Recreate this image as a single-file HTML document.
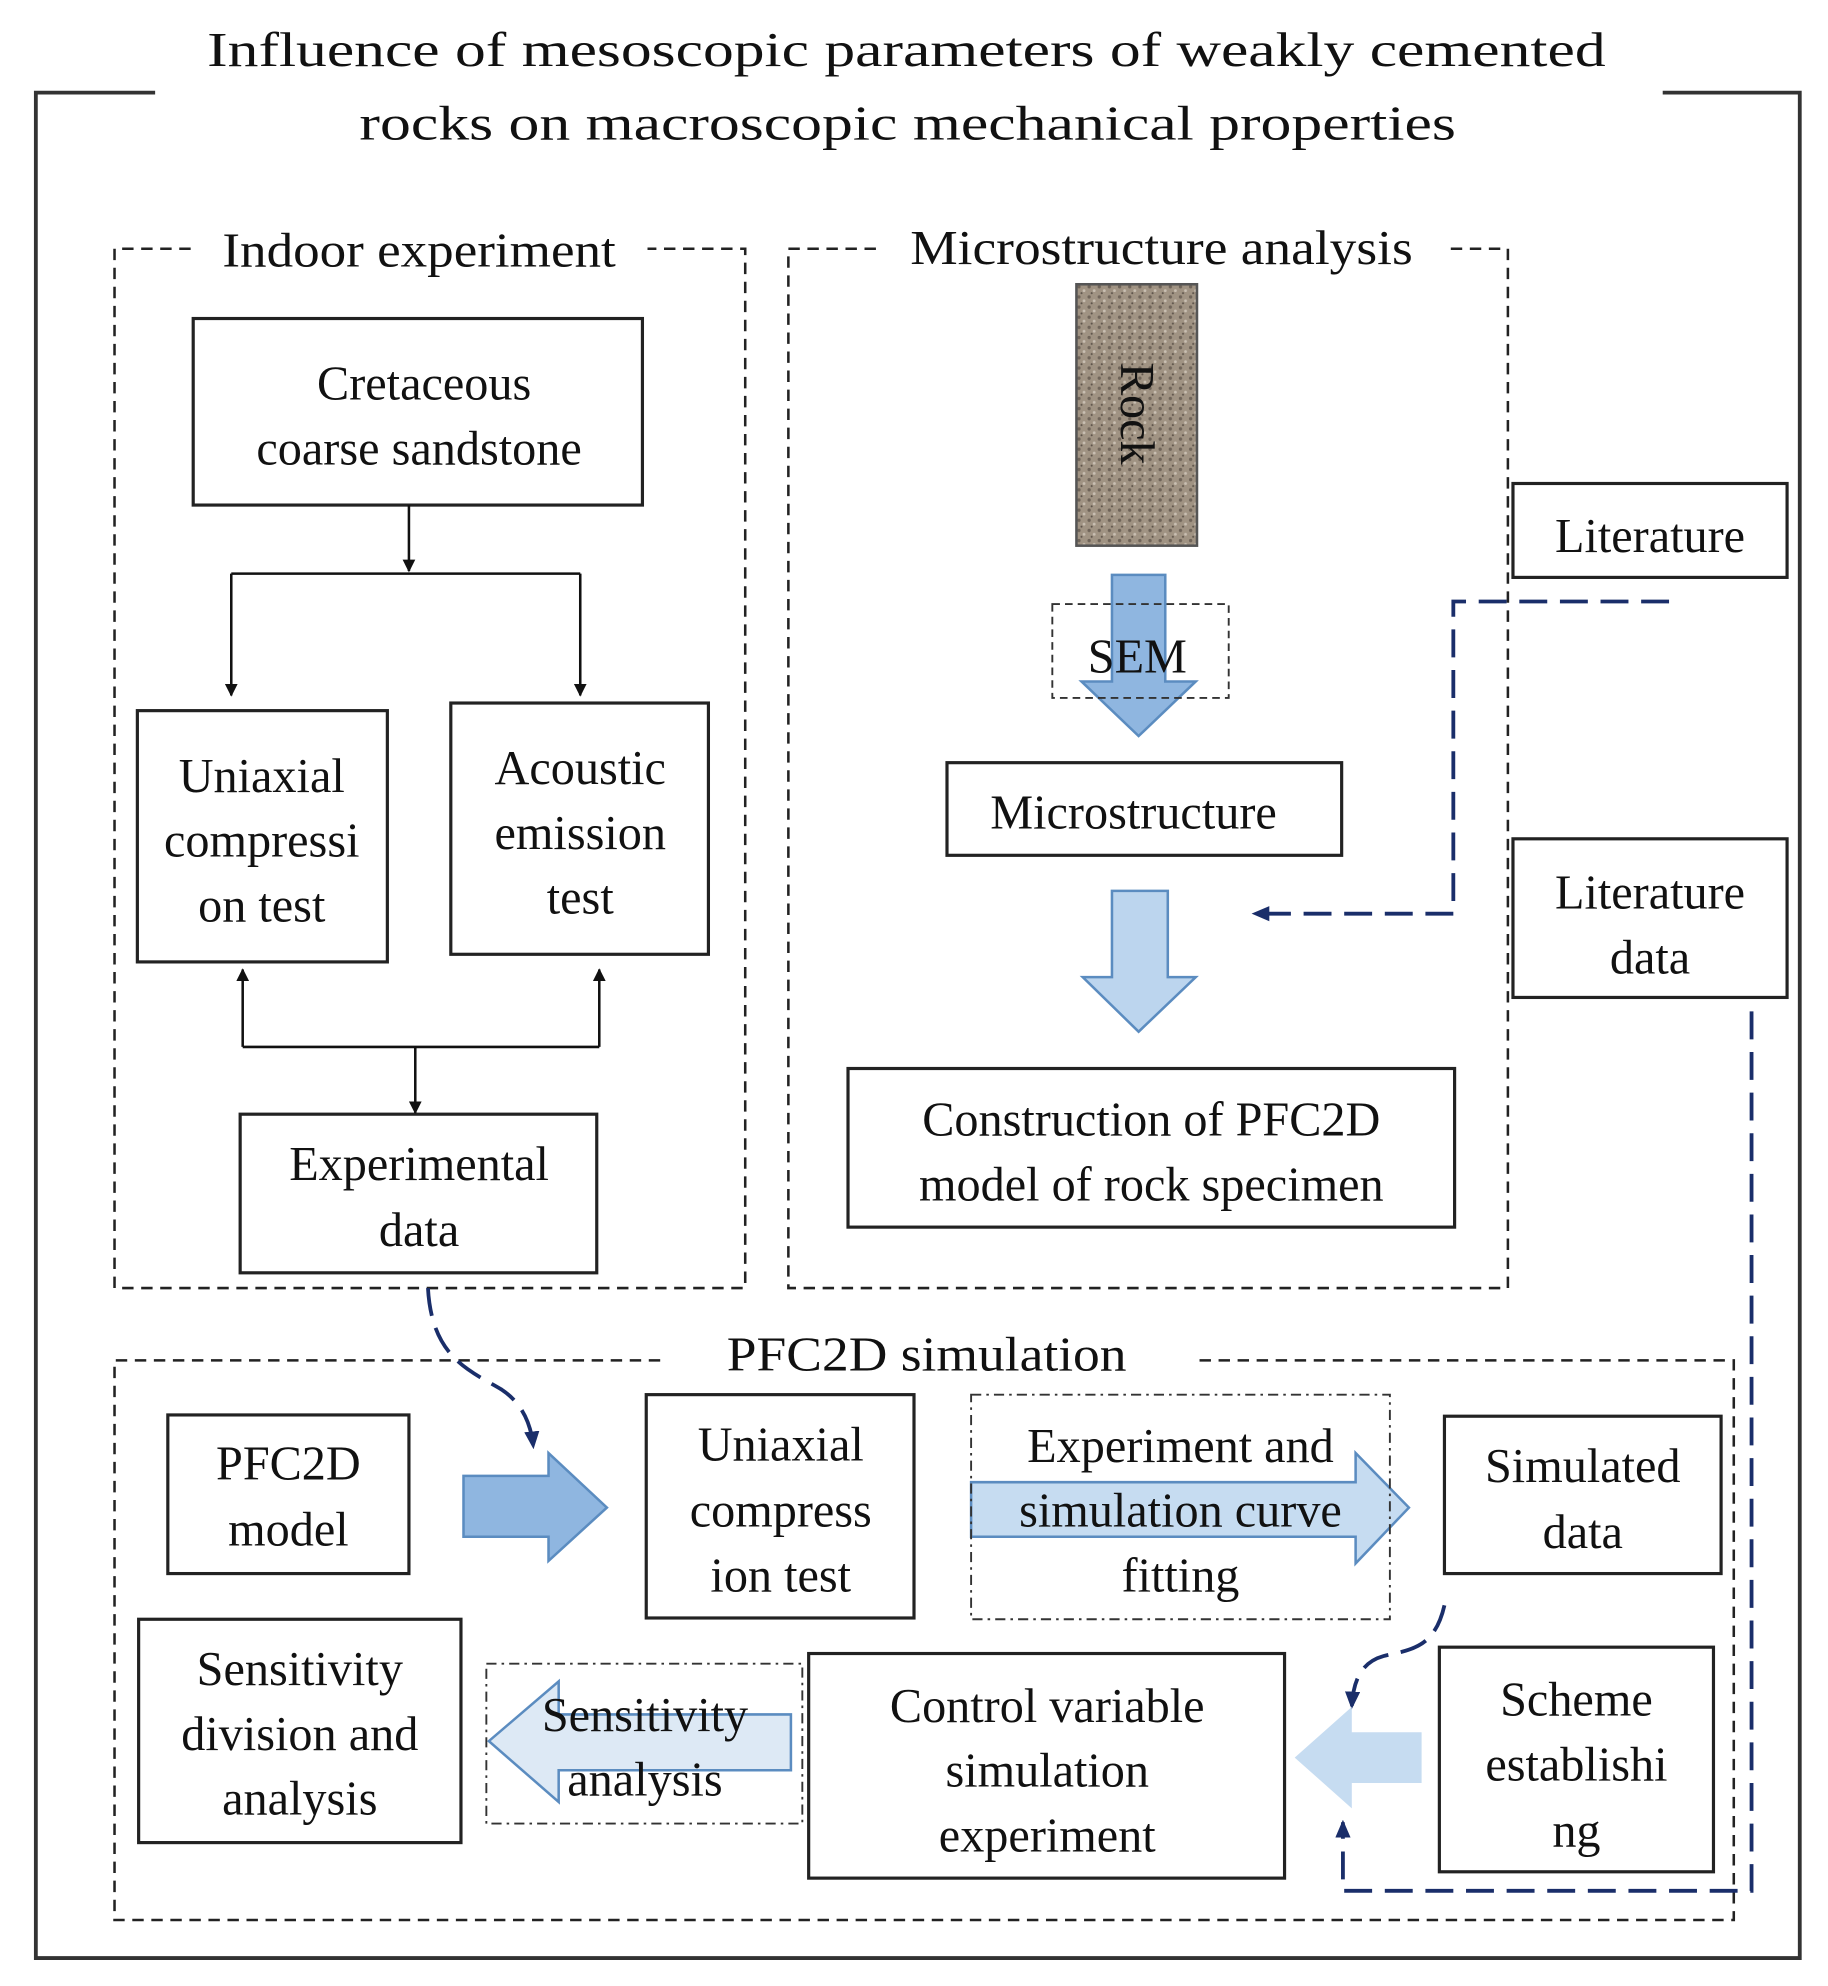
<!DOCTYPE html>
<html><head><meta charset="utf-8"><style>
html,body{margin:0;padding:0;background:#fff}
svg{display:block}
text{font-family:"Liberation Serif",serif;font-size:38px;fill:#111;text-anchor:middle}
</style></head><body>
<svg width="1828" height="1986" viewBox="0 0 1440 1565" xmlns="http://www.w3.org/2000/svg">
<defs>
<marker id="ab" markerWidth="10" markerHeight="10" refX="9" refY="5" orient="auto" markerUnits="userSpaceOnUse"><path d="M0,0 L10,5 L0,10 z" fill="#111"/></marker>
<marker id="an" markerWidth="14" markerHeight="12" refX="12" refY="6" orient="auto" markerUnits="userSpaceOnUse"><path d="M0,0 L14,6 L0,12 z" fill="#1a2e6a"/></marker>
<pattern id="tex" width="8" height="8" patternUnits="userSpaceOnUse"><rect width="8" height="8" fill="#a09383"/><circle cx="2" cy="2" r="1.3" fill="#6f6459"/><circle cx="6" cy="5" r="1.1" fill="#c9bfb2"/><circle cx="4" cy="7" r="0.8" fill="#5e544b"/></pattern>
</defs>
<!-- outer frame -->
<path d="M122,73 L28,73 L28,1543 L1418,1543 L1418,73 L1310,73" fill="none" stroke="#333" stroke-width="3"/>
<text x="714" y="52" font-size="41" textLength="1102" lengthAdjust="spacingAndGlyphs">Influence of mesoscopic parameters of weakly cemented</text>
<text x="715" y="110" font-size="41" textLength="864" lengthAdjust="spacingAndGlyphs">rocks on macroscopic mechanical properties</text>

<g fill="none" stroke="#222" stroke-width="2" stroke-dasharray="9,6">
<path d="M150,196 L90,196 L90,1015 L587,1015 L587,196 L510,196"/>
<path d="M690,196 L621,196 L621,1015 L1188,1015 L1188,196 L1140,196"/>
<path d="M520,1072 L90,1072 L90,1513 L1366,1513 L1366,1072 L940,1072"/>
</g>
<text x="330" y="210" textLength="310" lengthAdjust="spacingAndGlyphs">Indoor experiment</text>
<text x="915" y="208" textLength="396" lengthAdjust="spacingAndGlyphs">Microstructure analysis</text>
<text x="730" y="1080" textLength="315" lengthAdjust="spacingAndGlyphs">PFC2D simulation</text>

<g fill="#fff" stroke="#222" stroke-width="2.5">
<rect x="152" y="251" width="354" height="147"/>
<rect x="108" y="560" width="197" height="198"/>
<rect x="355" y="554" width="203" height="198"/>
<rect x="189" y="878" width="281" height="125"/>
<rect x="746" y="601" width="311" height="73"/>
<rect x="668" y="842" width="478" height="125"/>
<rect x="1192" y="381" width="216" height="74"/>
<rect x="1192" y="661" width="216" height="125"/>
<rect x="132" y="1115" width="190" height="125"/>
<rect x="509" y="1099" width="211" height="176"/>
<rect x="1138" y="1116" width="218" height="124"/>
<rect x="1134" y="1298" width="216" height="177"/>
<rect x="637" y="1303" width="375" height="177"/>
<rect x="109" y="1276" width="254" height="176"/>
</g>

<!-- indoor connectors -->
<g stroke="#111" stroke-width="2" fill="none">
<line x1="322" y1="398" x2="322" y2="450" marker-end="url(#ab)"/>
<path d="M182,452 L457,452"/>
<line x1="182" y1="452" x2="182" y2="548" marker-end="url(#ab)"/>
<line x1="457" y1="452" x2="457" y2="548" marker-end="url(#ab)"/>
<path d="M191,825 L472,825"/>
<line x1="191" y1="825" x2="191" y2="764" marker-end="url(#ab)"/>
<line x1="472" y1="825" x2="472" y2="764" marker-end="url(#ab)"/>
<line x1="327" y1="825" x2="327" y2="877" marker-end="url(#ab)"/>
</g>
<text x="334" y="315">Cretaceous</text>
<text x="330" y="366">coarse sandstone</text>
<text x="206" y="624">Uniaxial</text>
<text x="206" y="675">compressi</text>
<text x="206" y="726">on test</text>
<text x="457" y="618">Acoustic</text>
<text x="457" y="669">emission</text>
<text x="457" y="720">test</text>
<text x="330" y="930">Experimental</text>
<text x="330" y="982">data</text>

<!-- rock -->
<rect x="848" y="224" width="95" height="206" fill="url(#tex)" stroke="#555" stroke-width="2"/>
<text x="0" y="0" transform="translate(883,326) rotate(90)" font-size="36">Rock</text>
<path d="M876,453 L918,453 L918,537 L942,537 L897,580 L852,537 L876,537 z" fill="#8fb6e0" stroke="#5b8cc0" stroke-width="2"/>
<rect x="829" y="476" width="139" height="74" fill="none" stroke="#333" stroke-width="1.5" stroke-dasharray="6,4"/>
<text x="896" y="530">SEM</text>
<text x="893" y="653">Microstructure</text>
<path d="M876,702 L920,702 L920,770 L942,770 L897,813 L853,770 L876,770 z" fill="#bcd5ee" stroke="#5b8cc0" stroke-width="2"/>
<text x="907" y="895">Construction of PFC2D</text>
<text x="907" y="946">model of rock specimen</text>
<text x="1300" y="435">Literature</text>
<text x="1300" y="716">Literature</text>
<text x="1300" y="767">data</text>

<!-- navy dashed connectors -->
<g fill="none" stroke="#1a2e6a" stroke-width="3" stroke-dasharray="22,10">
<path d="M1315,474 L1145,474 L1145,720 L988,720" marker-end="url(#an)"/>
<path d="M1380,797 L1380,1490 L1058,1490 L1058,1436" marker-end="url(#an)"/>
<path d="M337,1015 C340,1070 370,1080 395,1095 C410,1105 418,1120 420,1140" marker-end="url(#an)"/>
<path d="M1138,1265 C1130,1300 1110,1300 1090,1305 C1072,1310 1066,1325 1065,1345" marker-end="url(#an)"/>
</g>

<!-- PFC section -->
<text x="227" y="1166">PFC2D</text>
<text x="227" y="1218">model</text>
<path d="M365,1163 L432,1163 L432,1145 L478,1188 L432,1230 L432,1211 L365,1211 z" fill="#8fb6e0" stroke="#5b8cc0" stroke-width="2"/>
<text x="615" y="1151">Uniaxial</text>
<text x="615" y="1203">compress</text>
<text x="615" y="1254">ion test</text>
<path d="M765,1168 L1068,1168 L1068,1145 L1110,1188 L1068,1232 L1068,1211 L765,1211 z" fill="#c6dcf1" stroke="#5b8cc0" stroke-width="2"/>
<rect x="765" y="1099" width="330" height="177" fill="none" stroke="#333" stroke-width="1.5" stroke-dasharray="8,4,2,4"/>
<text x="930" y="1152">Experiment and</text>
<text x="930" y="1203">simulation curve</text>
<text x="930" y="1254">fitting</text>
<text x="1247" y="1168">Simulated</text>
<text x="1247" y="1220">data</text>
<text x="1242" y="1352">Scheme</text>
<text x="1242" y="1403">establishi</text>
<text x="1242" y="1455">ng</text>
<path d="M1120,1365 L1065,1365 L1065,1345 L1020,1385 L1065,1425 L1065,1405 L1120,1405 z" fill="#c6dcf1"/>
<text x="825" y="1357">Control variable</text>
<text x="825" y="1408">simulation</text>
<text x="825" y="1459">experiment</text>
<path d="M623,1351 L440,1351 L440,1325 L385,1372 L440,1420 L440,1395 L623,1395 z" fill="#dde9f5" stroke="#5b8cc0" stroke-width="2"/>
<rect x="383" y="1311" width="249" height="126" fill="none" stroke="#333" stroke-width="1.5" stroke-dasharray="8,4,2,4"/>
<text x="508" y="1364">Sensitivity</text>
<text x="508" y="1415">analysis</text>
<text x="236" y="1328">Sensitivity</text>
<text x="236" y="1379">division and</text>
<text x="236" y="1430">analysis</text>
</svg>
</body></html>
